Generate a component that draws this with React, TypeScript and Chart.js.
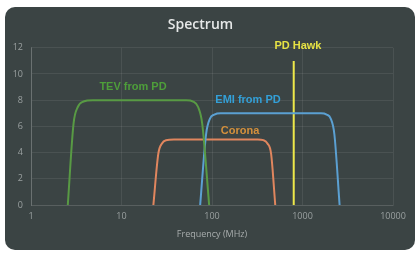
import React, { useEffect, useRef } from "react";
import { Chart, registerables } from "chart.js";

Chart.register(...registerables);

const xTicks = [1, 10, 100, 1000, 10000];
const yMax = 12;

const tevX = [2.55, 2.95, 3.3, 3.8, 4.8, 52, 62, 70, 78, 93];
const tevY = [0, 6.2, 7.5, 7.9, 8, 8, 7.9, 7.5, 6.2, 0];

const emiX = [74, 86, 95, 106, 125, 1600, 1850, 2050, 2250, 2570];
const emiY = [0, 5.4, 6.6, 6.9, 7, 7, 6.9, 6.6, 5.4, 0];

const coronaX = [22.5, 25.5, 28, 31, 38, 320, 370, 410, 450, 500];
const coronaY = [0, 3.9, 4.7, 4.95, 5, 5, 4.95, 4.7, 3.9, 0];

const hawkX = [800, 800];
const hawkY = [0, 11];

const seriesNames = ["TEV from PD", "EMI from PD", "Corona", "PD Hawk"];
const labelAnchorX = [13.4, 250, 204, 890];
const labelAnchorY = [9.0, 8.0, 5.66, 12.15];

const lineColors = ["#589a44", "#5ba0d2", "#e0865e", "#eee84a"];
const labelColors = ["#4e9e3a", "#33a0d8", "#d4903c", "#e6e244"];

const pts = (xs: number[], ys: number[]) => xs.map((x, i) => ({ x, y: ys[i] }));

const labelPlugin = {
  id: "seriesLabels",
  afterDatasetsDraw(chart: any) {
    const { ctx, scales } = chart;
    ctx.save();
    ctx.font = "bold 11px 'Liberation Sans', Arial, sans-serif";
    ctx.textAlign = "center";
    ctx.textBaseline = "middle";
    seriesNames.forEach((name, i) => {
      const px = scales.x.getPixelForValue(labelAnchorX[i]);
      const py = scales.y.getPixelForValue(labelAnchorY[i]);
      ctx.fillStyle = labelColors[i];
      ctx.fillText(name, px, py);
    });
    ctx.restore();
  },
};

export default function App() {
  const ref = useRef<HTMLCanvasElement>(null);
  useEffect(() => {
    const mk = (i: number, xs: number[], ys: number[]) => ({
      label: seriesNames[i],
      data: pts(xs, ys),
      borderColor: lineColors[i],
      backgroundColor: lineColors[i],
      borderWidth: 2,
      pointRadius: 0,
      showLine: true,
      fill: false,
      cubicInterpolationMode: "monotone" as const,
    });
    const chart = new Chart(ref.current!, {
      type: "scatter",
      data: {
        datasets: [
          mk(0, tevX, tevY),
          mk(1, emiX, emiY),
          mk(2, coronaX, coronaY),
          mk(3, hawkX, hawkY),
        ],
      },
      options: {
        animation: false,
        responsive: false,
        layout: { padding: { left: 8, right: 27, top: 8, bottom: 12 } },
        plugins: {
          legend: { display: false },
          tooltip: { enabled: false },
          title: {
            display: true,
            text: "Spectrum",
            color: "#e6e8e8",
            font: { family: "'Open Sans', sans-serif", size: 14, weight: "600" },
            padding: { top: 9, bottom: 14 },
          },
        },
        scales: {
          x: {
            type: "logarithmic",
            min: 1,
            max: 10000,
            afterBuildTicks: (s: any) => {
              s.ticks = xTicks.map((v) => ({ value: v }));
            },
            afterFit: (s: any) => {
              s.height = 38;
            },
            ticks: {
              color: "#9aa0a0",
              font: { family: "'Open Sans', sans-serif", size: 9 },
              padding: 6,
              callback: (v: any) => String(v),
              maxRotation: 0,
            },
            grid: { color: "rgba(255,255,255,0.08)", drawTicks: false },
            border: { color: "rgba(255,255,255,0.08)" },
            title: {
              display: true,
              text: "Frequency (MHz)",
              color: "#a8adad",
              font: { family: "'Open Sans', sans-serif", size: 9 },
              padding: { top: 0, bottom: 3 },
            },
          },
          y: {
            min: 0,
            max: yMax,
            afterFit: (s: any) => {
              s.width = 23;
            },
            ticks: {
              stepSize: 2,
              color: "#9aa0a0",
              font: { family: "'Open Sans', sans-serif", size: 9 },
              padding: 8,
            },
            grid: { color: "rgba(255,255,255,0.08)", drawTicks: false },
            border: { color: "rgba(255,255,255,0.18)" },
          },
        },
      },
      plugins: [labelPlugin],
    } as any);
    return () => chart.destroy();
  }, []);
  return (
    <div style={{ position: "fixed", left: 0, top: 0, width: 420, height: 255, background: "#ffffff" }}>
      <div
        style={{
          position: "absolute",
          left: 5,
          top: 7,
          width: 410,
          height: 243,
          borderRadius: 10,
          background: "#3b4444",
        }}
      />
      <canvas ref={ref} width={420} height={255} style={{ position: "absolute", left: 0, top: 0 }} />
    </div>
  );
}
